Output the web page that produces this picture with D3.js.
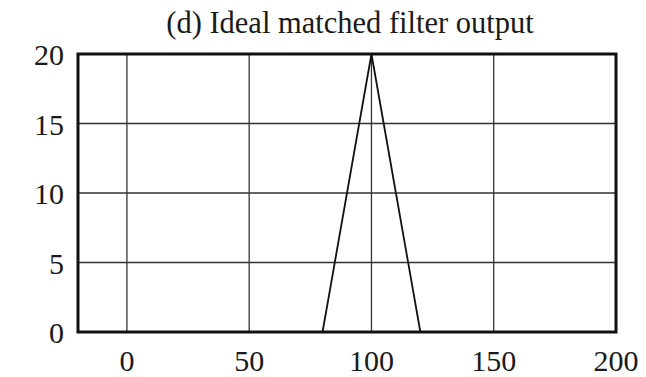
<!DOCTYPE html>
<html>
<head>
<meta charset="utf-8">
<script src="https://cdn.jsdelivr.net/npm/d3@7"></script>
<style>
  body { margin: 0; background: #fff; }
  text { font-family: "Liberation Serif", "DejaVu Serif", serif; fill: #1a1a1a; }
</style>
</head>
<body>
<div class="canvas"></div>
<script>
const title = '(d) Ideal matched filter output';

// output samples (piecewise linear)
const xs = [-20, 80, 100, 120, 200];
const ys = [0, 0, 20, 0, 0];

const xTicks = [0, 50, 100, 150, 200];
const yTicks = [0, 5, 10, 15, 20];

const dims = { width: 646, height: 377 };
const box = { left: 78, right: 616, top: 54, bottom: 332 };

const svg = d3.select('.canvas')
    .append('svg')
    .attr('width', dims.width)
    .attr('height', dims.height)
;

const x = d3.scaleLinear().domain([-20, 200]).range([box.left, box.right]);
const y = d3.scaleLinear().domain([0, 20]).range([box.bottom, box.top]);

// grid
svg.append('g')
    .selectAll('line')
    .data(xTicks)
    .enter().append('line')
    .attr('x1', d => x(d)).attr('x2', d => x(d))
    .attr('y1', box.top).attr('y2', box.bottom)
    .attr('stroke', '#333').attr('stroke-width', 1.3);

svg.append('g')
    .selectAll('line')
    .data(yTicks)
    .enter().append('line')
    .attr('x1', box.left).attr('x2', box.right)
    .attr('y1', d => y(d)).attr('y2', d => y(d))
    .attr('stroke', '#333').attr('stroke-width', 1.3);

// frame
svg.append('rect')
    .attr('x', box.left).attr('y', box.top)
    .attr('width', box.right - box.left)
    .attr('height', box.bottom - box.top)
    .attr('fill', 'none')
    .attr('stroke', '#111')
    .attr('stroke-width', 3);

// data line
const line = d3.line().x((d, i) => x(xs[i])).y(d => y(d));
svg.append('path')
    .datum(ys)
    .attr('d', line)
    .attr('fill', 'none')
    .attr('stroke', '#111')
    .attr('stroke-width', 1.8);

// tick labels
svg.append('g')
    .selectAll('text')
    .data(xTicks)
    .enter().append('text')
    .attr('x', d => x(d))
    .attr('y', 371)
    .attr('text-anchor', 'middle')
    .attr('font-size', 30)
    .text(d => d);

svg.append('g')
    .selectAll('text')
    .data(yTicks)
    .enter().append('text')
    .attr('x', 64)
    .attr('y', d => y(d) + 11)
    .attr('text-anchor', 'end')
    .attr('font-size', 30)
    .text(d => d);

svg.append('text')
    .attr('x', 350)
    .attr('y', 33)
    .attr('text-anchor', 'middle')
    .attr('font-size', 30.5)
    .text(title);
</script>
</body>
</html>
